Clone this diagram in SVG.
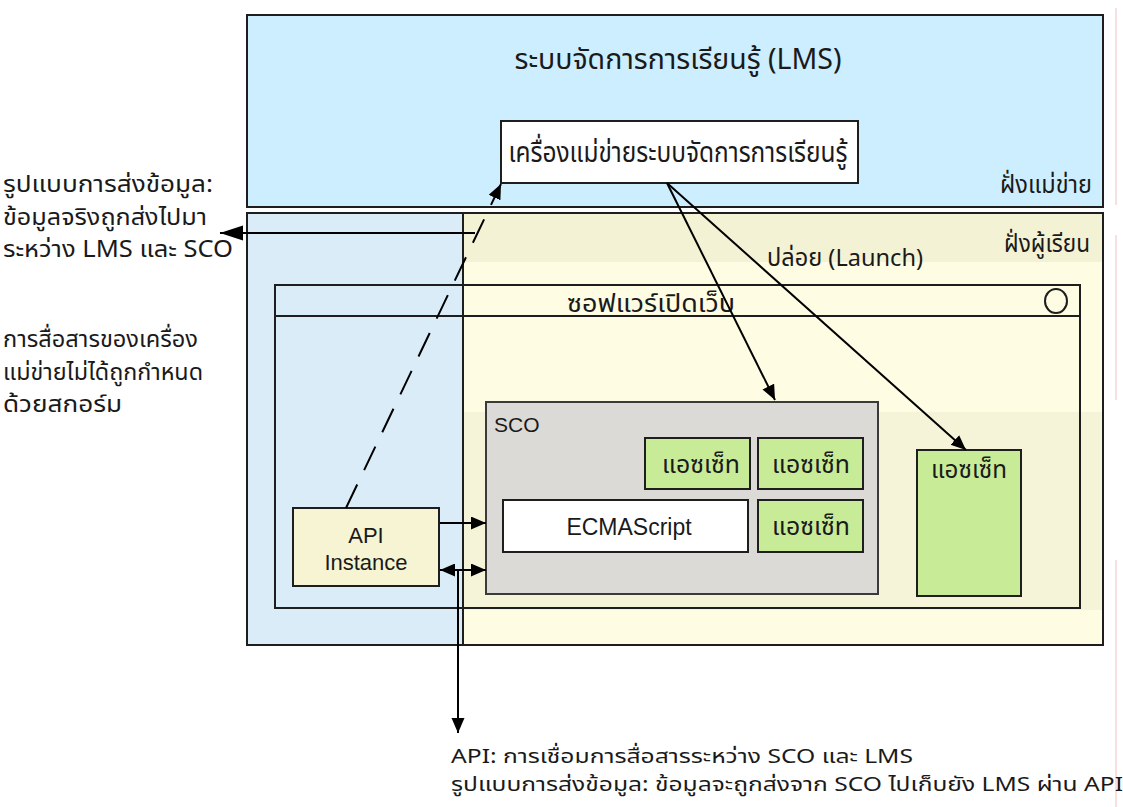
<svg xmlns="http://www.w3.org/2000/svg" width="1123" height="807" viewBox="0 0 1123 807">
  <style>
    .t { font-family: "Noto Sans Thai", "Noto Sans", "Liberation Sans", "DejaVu Sans", sans-serif; fill: #1a1a1a; }
    .l { font-family: "Liberation Sans", Arial, sans-serif; fill: #1a1a1a; }
    .box { stroke: #1e1e1e; stroke-width: 2; }
    .conn { stroke: #000; stroke-width: 2; fill: none; }
  </style>
  <defs>
    <marker id="ah" markerUnits="userSpaceOnUse" markerWidth="16" markerHeight="14" refX="15" refY="6.5" orient="auto">
      <path d="M0,0 L15,6.5 L0,13 z" fill="#000"/>
    </marker>
    <marker id="ahs" markerUnits="userSpaceOnUse" markerWidth="16" markerHeight="14" refX="0" refY="6.5" orient="auto">
      <path d="M15,0 L0,6.5 L15,13 z" fill="#000"/>
    </marker>
    <marker id="ahl" markerUnits="userSpaceOnUse" markerWidth="24" markerHeight="16" refX="23" refY="7.5" orient="auto">
      <path d="M0,0 L23,7.5 L0,15 z" fill="#000"/>
    </marker>
  </defs>

  <rect width="1123" height="807" fill="#fff"/>
  <!-- faint edge line on the right -->
  <line x1="1116" y1="8" x2="1116" y2="205" stroke="#f3d6d6" stroke-width="1.5"/>
  <line x1="1116" y1="235" x2="1116" y2="400" stroke="#f3d6d6" stroke-width="1.5"/>
  <line x1="1116" y1="560" x2="1116" y2="807" stroke="#f3d6d6" stroke-width="1.5"/>

  <!-- server side -->
  <g id="server-side">
    <rect class="box" x="247" y="15" width="856" height="192" fill="#cdeeff"/>
    <text class="t" x="678" y="69" font-size="29" text-anchor="middle" textLength="327" lengthAdjust="spacingAndGlyphs">ระบบจัดการการเรียนรู้ (LMS)</text>
    <text class="t" x="1092" y="193" font-size="24" text-anchor="end" textLength="92" lengthAdjust="spacingAndGlyphs">ฝั่งแม่ข่าย</text>
  </g>

  <g id="lms-server">
    <rect class="box" x="501" y="121" width="357" height="62" fill="#fff"/>
    <text class="t" x="678" y="162" font-size="28" text-anchor="middle" textLength="339" lengthAdjust="spacingAndGlyphs">เครื่องแม่ข่ายระบบจัดการการเรียนรู้</text>
  </g>

  <!-- learner side -->
  <g id="learner-side">
    <rect x="247" y="213" width="856" height="432" fill="#fefce2"/>
    <rect x="463" y="213" width="640" height="49" fill="#f4f2d4"/>
    <rect x="463" y="412" width="640" height="198" fill="#f5f3d8"/>
    <rect x="247" y="213" width="216" height="432" fill="#dbecf9"/>
    <line x1="463" y1="213" x2="463" y2="645" stroke="#1e1e1e" stroke-width="2"/>
    <rect class="box" x="247" y="213" width="856" height="432" fill="none"/>
    <text class="t" x="1090" y="252" font-size="24" text-anchor="end" textLength="86" lengthAdjust="spacingAndGlyphs">ฝั่งผู้เรียน</text>
    <text class="t" x="767" y="266" font-size="24" textLength="156" lengthAdjust="spacingAndGlyphs">ปล่อย (Launch)</text>
  </g>

  <g id="browser">
    <rect class="box" x="275" y="285" width="805" height="323" fill="none"/>
    <line x1="275" y1="316" x2="1080" y2="316" stroke="#1e1e1e" stroke-width="2"/>
    <text class="t" x="567" y="312" font-size="25" textLength="168" lengthAdjust="spacingAndGlyphs">ซอฟแวร์เปิดเว็บ</text>
    <ellipse cx="1056" cy="301" rx="11" ry="12" fill="none" stroke="#1e1e1e" stroke-width="2"/>
  </g>

  <g id="sco">
    <rect x="486" y="402" width="392" height="192" fill="#dcdad6" stroke="#3a3a3a" stroke-width="2"/>
    <text class="l" x="494" y="432" font-size="21">SCO</text>
  </g>

  <g id="asset-1">
    <rect class="box" x="645" y="438" width="105" height="51" fill="#c8eb98"/>
    <text class="t" x="701" y="473" font-size="24" text-anchor="middle" textLength="78" lengthAdjust="spacingAndGlyphs">แอซเซ็ท</text>
  </g>
  <g id="asset-2">
    <rect class="box" x="758" y="438" width="105" height="51" fill="#c8eb98"/>
    <text class="t" x="811" y="473" font-size="24" text-anchor="middle" textLength="78" lengthAdjust="spacingAndGlyphs">แอซเซ็ท</text>
  </g>
  <g id="asset-3">
    <rect class="box" x="758" y="500" width="105" height="52" fill="#c8eb98"/>
    <text class="t" x="811" y="535" font-size="24" text-anchor="middle" textLength="78" lengthAdjust="spacingAndGlyphs">แอซเซ็ท</text>
  </g>
  <g id="ecmascript">
    <rect class="box" x="503" y="500" width="245" height="52" fill="#fff"/>
    <text class="l" x="629" y="535" font-size="23" text-anchor="middle">ECMAScript</text>
  </g>
  <g id="asset-4">
    <rect class="box" x="917" y="450" width="104" height="146" fill="#c8eb98"/>
    <text class="t" x="969" y="478" font-size="24" text-anchor="middle" textLength="76" lengthAdjust="spacingAndGlyphs">แอซเซ็ท</text>
  </g>

  <g id="api-instance">
    <rect class="box" x="293" y="508" width="146" height="78" fill="#f6f4d2"/>
    <text class="l" x="366" y="543" font-size="22" text-anchor="middle">API</text>
    <text class="l" x="366" y="570" font-size="22" text-anchor="middle">Instance</text>
  </g>

  <!-- notes -->
  <g id="note-data-exchange">
    <text class="t" x="3" y="192" font-size="23" textLength="210" lengthAdjust="spacingAndGlyphs">รูปแบบการส่งข้อมูล:</text>
    <text class="t" x="3" y="225" font-size="23" textLength="204" lengthAdjust="spacingAndGlyphs">ข้อมูลจริงถูกส่งไปมา</text>
    <text class="t" x="3" y="257" font-size="23" textLength="230" lengthAdjust="spacingAndGlyphs">ระหว่าง LMS และ SCO</text>
  </g>
  <g id="note-server-comm">
    <text class="t" x="3" y="347" font-size="23" textLength="195" lengthAdjust="spacingAndGlyphs">การสื่อสารของเครื่อง</text>
    <text class="t" x="3" y="380" font-size="23" textLength="200" lengthAdjust="spacingAndGlyphs">แม่ข่ายไม่ได้ถูกกำหนด</text>
    <text class="t" x="3" y="412" font-size="23" textLength="119" lengthAdjust="spacingAndGlyphs">ด้วยสกอร์ม</text>
  </g>
  <g id="note-api">
    <text class="t" x="451" y="763" font-size="20" textLength="462" lengthAdjust="spacingAndGlyphs">API: การเชื่อมการสื่อสารระหว่าง SCO และ LMS</text>
    <text class="t" x="451" y="791" font-size="20" textLength="672" lengthAdjust="spacingAndGlyphs">รูปแบบการส่งข้อมูล: ข้อมูลจะถูกส่งจาก SCO ไปเก็บยัง LMS ผ่าน API</text>
  </g>

  <!-- connectors -->
  <g id="connectors">
    <line class="conn" x1="346" y1="508" x2="501" y2="184" stroke-dasharray="26 16" marker-end="url(#ah)"/>
    <line class="conn" x1="667" y1="183" x2="775" y2="400" marker-end="url(#ah)"/>
    <line class="conn" x1="667" y1="183" x2="966" y2="450" marker-end="url(#ah)"/>
    <line class="conn" x1="475" y1="233" x2="220" y2="233" marker-end="url(#ahl)"/>
    <line class="conn" x1="440" y1="523" x2="486" y2="523" marker-end="url(#ah)"/>
    <line class="conn" x1="440" y1="570" x2="486" y2="570" marker-start="url(#ahs)" marker-end="url(#ah)"/>
    <line class="conn" x1="458" y1="570" x2="458" y2="733" marker-end="url(#ah)"/>
  </g>
</svg>
